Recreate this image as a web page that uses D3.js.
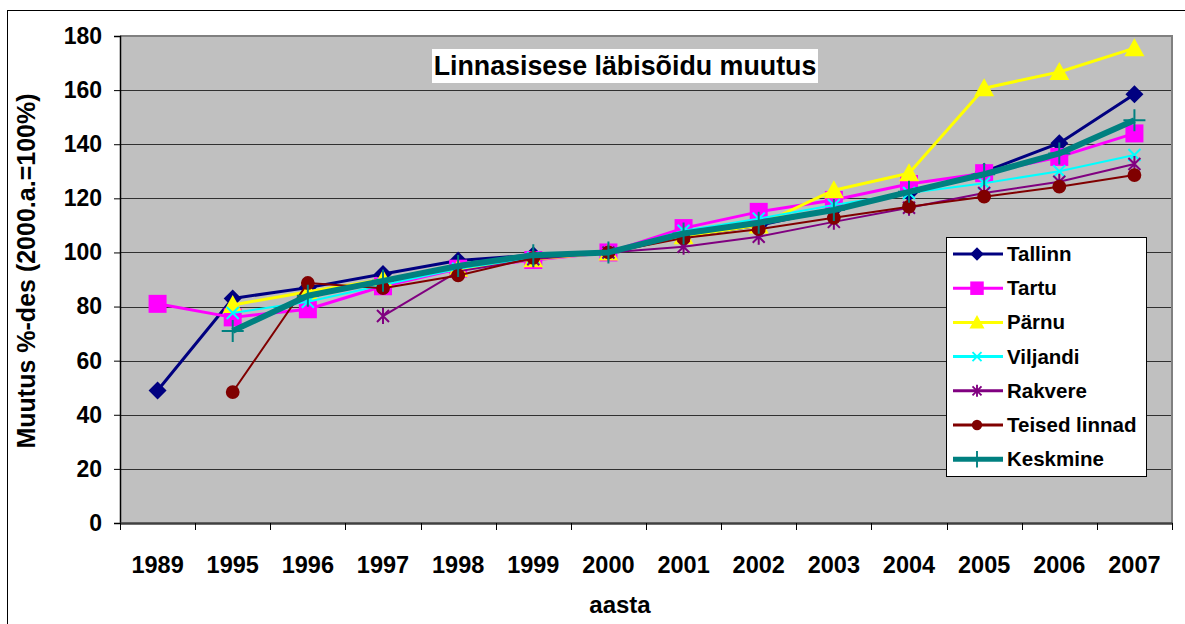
<!DOCTYPE html>
<html>
<head>
<meta charset="utf-8">
<script src="https://cdn.jsdelivr.net/npm/d3@7"></script>
<style>
  html, body { margin: 0; padding: 0; background: #fff; }
  svg { display: block; font-family: Arial, "Liberation Sans", sans-serif; }
</style>
</head>
<body>
<svg id="chart" width="1185" height="624"></svg>
<script>
// Years on the category axis
const years = ["1989","1995","1996","1997","1998","1999","2000","2001","2002","2003","2004","2005","2006","2007"];
const yTicks = [0,20,40,60,80,100,120,140,160,180];

// Change of in-town mileage, % of year 2000 (null = no data)
const tallinn  = [49, 83, 87, 92, 97, 99, 100, 106, 110, 116, 122, 129.8, 140.4, 158.5];
const tartu    = [81, 76, 79, 87.5, 94, 97.2, 100, 109, 115, 119.4, 125.3, 129.3, 135.3, 144];
const parnu    = [null, 80.6, 85.5, 90, 94, 97.5, 100, 106, 110, 123, 129.3, 160.7, 166.7, 175.5];
const viljandi = [null, 77.6, 81.8, 88, 94, 98, 100, 108, 112.5, 117.5, 122, 125.6, 130, 136];
const rakvere  = [null, null, null, 76.5, 93, 97.5, 100, 102.1, 105.8, 111.3, 116.5, 122, 126.1, 132.7];
const teised   = [null, 48.4, 88.7, 86.8, 91.5, 98, 100, 105.3, 108.6, 112.8, 116.9, 120.6, 124.3, 128.6];
const keskmine = [null, 71, 84, 89.5, 95, 99, 100, 107, 111, 115.7, 122.4, 128.9, 136.6, 148.9];

const series = [
  { name: "Tallinn",        values: tallinn,  color: "#000080", width: 3,   marker: "diamond" },
  { name: "Tartu",          values: tartu,    color: "#FF00FF", width: 3,   marker: "square" },
  { name: "Pärnu",          values: parnu,    color: "#FFFF00", width: 3,   marker: "triangle" },
  { name: "Viljandi",       values: viljandi, color: "#00FFFF", width: 2,   marker: "times" },
  { name: "Rakvere",        values: rakvere,  color: "#800080", width: 2,   marker: "asterisk" },
  { name: "Teised linnad",  values: teised,   color: "#800000", width: 2,   marker: "circle" },
  { name: "Keskmine",       values: keskmine, color: "#008080", width: 6,   marker: "plus" }
];

const svg = d3.select("#chart");

// Outer chart frame
svg.append("rect")
  .attr("x", 7.5).attr("y", 10.5).attr("width", 1190).attr("height", 630)
  .attr("fill", "#fff").attr("stroke", "#000").attr("stroke-width", 1);

const plot = { left: 120, right: 1172, top: 36, bottom: 523 };

const x = d3.scaleBand().domain(years).range([plot.left, plot.right]).padding(0);
const y = d3.scaleLinear().domain([0, 180]).range([plot.bottom, plot.top]);
const cx = d => x(d) + x.bandwidth() / 2;

// Plot area
svg.append("rect")
  .attr("x", plot.left).attr("y", plot.top)
  .attr("width", plot.right - plot.left).attr("height", plot.bottom - plot.top)
  .attr("fill", "#C0C0C0");

// Horizontal gridlines
svg.append("g")
  .selectAll("line")
  .data(yTicks.filter(t => t > 0 && t < 180))
  .join("line")
  .attr("x1", plot.left).attr("x2", plot.right)
  .attr("y1", d => Math.round(y(d)) + 0.5).attr("y2", d => Math.round(y(d)) + 0.5)
  .attr("stroke", "#303030").attr("stroke-width", 1);

// Plot border (top and right)
svg.append("path")
  .attr("d", `M${plot.left},${plot.top} H${plot.right} V${plot.bottom}`)
  .attr("fill", "none").attr("stroke", "#808080").attr("stroke-width", 2);

// Y axis
const yAxis = svg.append("g")
  .attr("transform", `translate(${plot.left},0)`)
  .call(d3.axisLeft(y).tickValues(yTicks).tickSize(6).tickPadding(12).tickFormat(d3.format("d")));
yAxis.select(".domain").attr("stroke", "#000").attr("stroke-width", 1.5);
yAxis.selectAll(".tick line").attr("stroke", "#000");
yAxis.selectAll("text")
  .attr("font-size", 23).attr("font-weight", "bold").attr("fill", "#000")
  .attr("font-family", "Arial, 'Liberation Sans', sans-serif");

// X axis: labels centred in each category, ticks on category boundaries
const xAxis = svg.append("g")
  .attr("transform", `translate(0,${plot.bottom})`)
  .call(d3.axisBottom(x).tickSize(0).tickPadding(33));
xAxis.select(".domain").attr("stroke", "#404040").attr("stroke-width", 2.5);
xAxis.selectAll("text")
  .attr("font-size", 23.5).attr("font-weight", "bold").attr("fill", "#000")
  .attr("font-family", "Arial, 'Liberation Sans', sans-serif");
xAxis.selectAll(".boundary")
  .data(years.concat(["end"]))
  .join("line")
  .attr("class", "boundary")
  .attr("x1", (d, i) => Math.round(plot.left + i * x.bandwidth()) + 0.5)
  .attr("x2", (d, i) => Math.round(plot.left + i * x.bandwidth()) + 0.5)
  .attr("y1", 0).attr("y2", 7)
  .attr("stroke", "#000").attr("stroke-width", 1);

// Axis titles
svg.append("text")
  .attr("x", 620).attr("y", 613)
  .attr("text-anchor", "middle")
  .attr("font-size", 24).attr("font-weight", "bold")
  .text("aasta");

svg.append("text")
  .attr("transform", "translate(35,271) rotate(-90)")
  .attr("text-anchor", "middle")
  .attr("font-size", 25).attr("font-weight", "bold")
  .text("Muutus %-des (2000.a.=100%)");

// Marker shapes
function markerPath(type) {
  switch (type) {
    case "diamond":  return "M0,-9 L9,0 L0,9 L-9,0 Z";
    case "square":   return "M-9,-9 H9 V9 H-9 Z";
    case "triangle": return "M0,-10 L10,8 L-10,8 Z";
    case "circle":   return d3.symbol(d3.symbolCircle, 150)();
    case "times":    return "M-6,-6 L6,6 M-6,6 L6,-6";
    case "asterisk": return "M-6,-6 L6,6 M-6,6 L6,-6 M0,-8 V8";
    case "plus":     return "M-11,0 H11 M0,-11 V11";
  }
}
const strokeMarker = t => t === "times" || t === "asterisk" || t === "plus";

function drawMarker(g, s, px, py) {
  const filled = !strokeMarker(s.marker);
  g.append("path")
    .attr("transform", `translate(${px},${py})`)
    .attr("d", markerPath(s.marker))
    .attr("fill", filled ? s.color : "none")
    .attr("stroke", filled ? "none" : s.color)
    .attr("stroke-width", 2);
}

const line = d3.line()
  .defined(d => d.v !== null)
  .x(d => cx(d.year))
  .y(d => y(d.v));

// Series: line then markers, drawn in legend order
series.forEach(s => {
  const pts = years.map((yr, i) => ({ year: yr, v: s.values[i] }));
  const g = svg.append("g");
  g.append("path")
    .datum(pts.filter(d => d.v !== null))
    .attr("d", line)
    .attr("fill", "none")
    .attr("stroke", s.color)
    .attr("stroke-width", s.width)
    .attr("stroke-linejoin", "round");
  pts.filter(d => d.v !== null).forEach(d => drawMarker(g, s, cx(d.year), y(d.v)));
});

// Title box
const title = svg.append("g");
title.append("rect")
  .attr("x", 432).attr("y", 49).attr("width", 386).attr("height", 34)
  .attr("fill", "#fff");
title.append("text")
  .attr("x", 625).attr("y", 75)
  .attr("text-anchor", "middle")
  .attr("font-size", 26.8).attr("font-weight", "bold")
  .text("Linnasisese läbisõidu muutus");

// Legend
const legend = svg.append("g");
legend.append("rect")
  .attr("x", 946.5).attr("y", 237.5).attr("width", 200).attr("height", 239)
  .attr("fill", "#fff").attr("stroke", "#000").attr("stroke-width", 1);
series.forEach((s, i) => {
  const ly = 254 + i * 34.2;
  const g = legend.append("g");
  g.append("line")
    .attr("x1", 953).attr("x2", 1003).attr("y1", ly).attr("y2", ly)
    .attr("stroke", s.color).attr("stroke-width", s.width === 6 ? 5 : 3);
  g.append("path")
    .attr("transform", `translate(977,${ly}) scale(0.75)`)
    .attr("d", markerPath(s.marker))
    .attr("fill", strokeMarker(s.marker) ? "none" : s.color)
    .attr("stroke", strokeMarker(s.marker) ? s.color : "none")
    .attr("stroke-width", 2.5);
  g.append("text")
    .attr("x", 1007).attr("y", ly + 7)
    .attr("font-size", 20.5).attr("font-weight", "bold")
    .text(s.name);
});
</script>
</body>
</html>
